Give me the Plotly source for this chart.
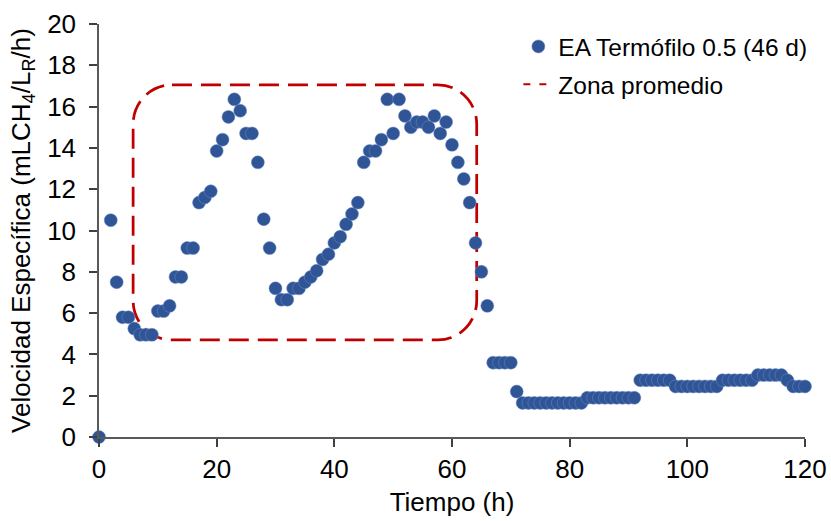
import plotly.graph_objects as go

hours = [0] + list(range(2, 121))
rate = [
    0.0, 10.5, 7.5, 5.8, 5.8, 5.25, 4.95, 4.95, 4.95, 6.1,
    6.1, 6.35, 7.75, 7.75, 9.15, 9.15, 11.35, 11.6, 11.9, 13.85,
    14.4, 15.5, 16.35, 15.8, 14.7, 14.7, 13.3, 10.55, 9.15, 7.2,
    6.65, 6.65, 7.2, 7.2, 7.5, 7.75, 8.05, 8.6, 8.85, 9.4,
    9.7, 10.3, 10.8, 11.35, 13.3, 13.85, 13.85, 14.4, 16.35, 14.7,
    16.35, 15.55, 15.0, 15.25, 15.25, 15.0, 15.55, 14.7, 15.25, 14.15,
    13.3, 12.5, 11.35, 9.4, 8.0, 6.35, 3.6, 3.6, 3.6, 3.6,
    2.2, 1.65, 1.65, 1.65, 1.65, 1.65, 1.65, 1.65, 1.65, 1.65,
    1.65, 1.65, 1.9, 1.9, 1.9, 1.9, 1.9, 1.9, 1.9, 1.9,
    1.9, 2.75, 2.75, 2.75, 2.75, 2.75, 2.75, 2.45, 2.45, 2.45,
    2.45, 2.45, 2.45, 2.45, 2.45, 2.75, 2.75, 2.75, 2.75, 2.75,
    2.75, 3.0, 3.0, 3.0, 3.0, 3.0, 2.75, 2.45, 2.45, 2.45,
]

series_name = "EA Termófilo 0.5 (46 d)"
zone_name = "Zona promedio"
# Zone box bounds (data units) and corner radii (data units)
zone_x0, zone_x1 = 5.8, 64.2
zone_y0, zone_y1 = 4.7, 17.05
zone_rx, zone_ry = 6.6, 1.9

blue = "#2F5597"
red = "#C00000"
font_family = "Liberation Sans, Arial, sans-serif"

fig = go.Figure()
fig.add_trace(go.Scatter(
    x=hours, y=rate, mode="markers", name=series_name, legendgroup="a",
    marker=dict(size=13, color=blue, line=dict(width=0.5, color="#6C8CC4")),
    cliponaxis=False,
))
fig.add_trace(go.Scatter(
    x=[None], y=[None], mode="lines", name=zone_name, legendgroup="b",
    line=dict(color=red, width=2, dash="7px,9px"),
))

k = 0.448
path = (
    f"M {zone_x0 + zone_rx},{zone_y1} "
    f"L {zone_x1 - zone_rx},{zone_y1} "
    f"C {zone_x1 - zone_rx * k},{zone_y1} {zone_x1},{zone_y1 - zone_ry * k} {zone_x1},{zone_y1 - zone_ry} "
    f"L {zone_x1},{zone_y0 + zone_ry} "
    f"C {zone_x1},{zone_y0 + zone_ry * k} {zone_x1 - zone_rx * k},{zone_y0} {zone_x1 - zone_rx},{zone_y0} "
    f"L {zone_x0 + zone_rx},{zone_y0} "
    f"C {zone_x0 + zone_rx * k},{zone_y0} {zone_x0},{zone_y0 + zone_ry * k} {zone_x0},{zone_y0 + zone_ry} "
    f"L {zone_x0},{zone_y1 - zone_ry} "
    f"C {zone_x0},{zone_y1 - zone_ry * k} {zone_x0 + zone_rx * k},{zone_y1} {zone_x0 + zone_rx},{zone_y1} Z"
)
fig.add_shape(type="path", path=path, xref="x", yref="y",
              line=dict(color=red, width=2.75, dash="20px,9px"), layer="below")

tick_font = dict(size=26, color="black", family=font_family)
axis_common = dict(
    showline=True, linecolor="#595959", linewidth=1.5,
    ticks="outside", tickcolor="#404040", ticklen=8, tickwidth=1.5,
    showgrid=False, zeroline=False, automargin=False,
    tickfont=tick_font,
)
fig.update_xaxes(range=[0, 120], dtick=20,
                 title=dict(text="Tiempo (h)", font=tick_font, standoff=10),
                 **axis_common)
fig.update_yaxes(range=[0, 20], dtick=2, ticklabelstandoff=8,
                 title=dict(text="Velocidad Específica (mLCH<sub>4</sub>/L<sub>R</sub>/h)",
                            font=tick_font, standoff=9),
                 **axis_common)

fig.update_layout(
    width=831, height=521,
    margin=dict(l=99, r=26, t=24, b=84, autoexpand=False),
    plot_bgcolor="white", paper_bgcolor="white",
    font=dict(family=font_family, size=24, color="black"),
    legend=dict(x=0.594, y=1.0, xanchor="left", yanchor="top",
                bgcolor="rgba(0,0,0,0)", font=dict(size=24.5), itemwidth=30,
                tracegroupgap=3),
    showlegend=True,
)

fig.write_html("out.html")
